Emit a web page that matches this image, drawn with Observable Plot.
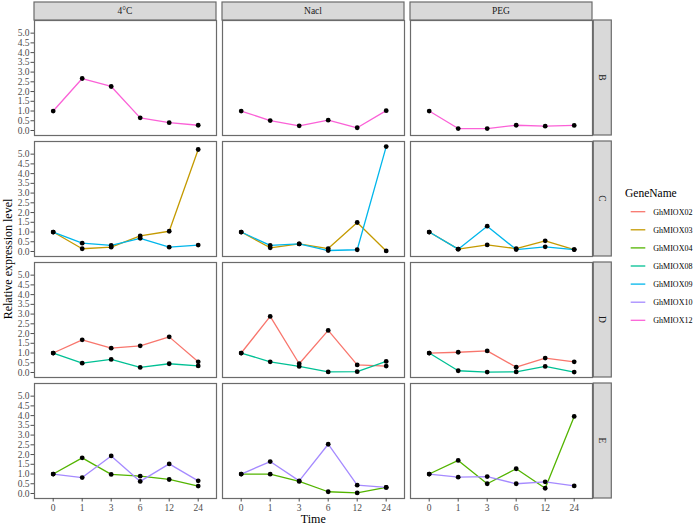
<!DOCTYPE html>
<html><head><meta charset="utf-8">
<script src="https://cdn.jsdelivr.net/npm/d3@7"></script>
<script src="https://cdn.jsdelivr.net/npm/@observablehq/plot@0.6"></script>
<style>body{margin:0;background:#fff;overflow:hidden}#chart{width:700px;height:526px}#chart svg{max-width:none;display:block}</style>
</head><body><div id="chart"></div>
<script>
const times = ["0","1","3","6","12","24"];
const conditions = ["4°C","Nacl","PEG"];
const groups = ["B","C","D","E"];
const genes = ["GhMIOX02","GhMIOX03","GhMIOX04","GhMIOX08","GhMIOX09","GhMIOX10","GhMIOX12"];
const geneColors = ["#F8766D","#C49A00","#53B400","#00C094","#00B6EB","#A58AFF","#FB61D7"];
const yTicks = [0,0.5,1,1.5,2,2.5,3,3.5,4,4.5,5];

// Row B
const B_GhMIOX12_4C   = [1.0, 2.67, 2.26, 0.65, 0.40, 0.27];
const B_GhMIOX12_Nacl = [1.0, 0.51, 0.24, 0.53, 0.14, 1.02];
const B_GhMIOX12_PEG  = [1.0, 0.10, 0.10, 0.27, 0.22, 0.26];
// Row C
const C_GhMIOX03_4C   = [1.0, 0.14, 0.22, 0.80, 1.04, 5.24];
const C_GhMIOX09_4C   = [1.0, 0.43, 0.31, 0.68, 0.22, 0.33];
const C_GhMIOX03_Nacl = [1.0, 0.19, 0.39, 0.15, 1.49, 0.03];
const C_GhMIOX09_Nacl = [1.0, 0.31, 0.39, 0.05, 0.09, 5.39];
const C_GhMIOX03_PEG  = [1.0, 0.12, 0.34, 0.15, 0.55, 0.10];
const C_GhMIOX09_PEG  = [1.0, 0.12, 1.30, 0.10, 0.24, 0.10];
// Row D
const D_GhMIOX02_4C   = [1.0, 1.68, 1.25, 1.37, 1.83, 0.55];
const D_GhMIOX08_4C   = [1.0, 0.48, 0.67, 0.26, 0.45, 0.34];
const D_GhMIOX02_Nacl = [1.0, 2.88, 0.45, 2.16, 0.39, 0.33];
const D_GhMIOX08_Nacl = [1.0, 0.55, 0.31, 0.03, 0.04, 0.57];
const D_GhMIOX02_PEG  = [1.0, 1.04, 1.11, 0.27, 0.74, 0.55];
const D_GhMIOX08_PEG  = [1.0, 0.09, 0.02, 0.03, 0.31, 0.02];
// Row E
const E_GhMIOX04_4C   = [1.0, 1.83, 0.98, 0.89, 0.72, 0.38];
const E_GhMIOX10_4C   = [1.0, 0.82, 1.93, 0.62, 1.52, 0.65];
const E_GhMIOX04_Nacl = [1.0, 0.99, 0.62, 0.09, 0.03, 0.31];
const E_GhMIOX10_Nacl = [1.0, 1.64, 0.65, 2.53, 0.43, 0.31];
const E_GhMIOX04_PEG  = [1.0, 1.70, 0.50, 1.27, 0.27, 3.96];
const E_GhMIOX10_PEG  = [1.0, 0.84, 0.87, 0.50, 0.60, 0.39];

const series = [
  ["B","GhMIOX12","4°C",B_GhMIOX12_4C],["B","GhMIOX12","Nacl",B_GhMIOX12_Nacl],["B","GhMIOX12","PEG",B_GhMIOX12_PEG],
  ["C","GhMIOX03","4°C",C_GhMIOX03_4C],["C","GhMIOX09","4°C",C_GhMIOX09_4C],
  ["C","GhMIOX03","Nacl",C_GhMIOX03_Nacl],["C","GhMIOX09","Nacl",C_GhMIOX09_Nacl],
  ["C","GhMIOX03","PEG",C_GhMIOX03_PEG],["C","GhMIOX09","PEG",C_GhMIOX09_PEG],
  ["D","GhMIOX02","4°C",D_GhMIOX02_4C],["D","GhMIOX08","4°C",D_GhMIOX08_4C],
  ["D","GhMIOX02","Nacl",D_GhMIOX02_Nacl],["D","GhMIOX08","Nacl",D_GhMIOX08_Nacl],
  ["D","GhMIOX02","PEG",D_GhMIOX02_PEG],["D","GhMIOX08","PEG",D_GhMIOX08_PEG],
  ["E","GhMIOX04","4°C",E_GhMIOX04_4C],["E","GhMIOX10","4°C",E_GhMIOX10_4C],
  ["E","GhMIOX04","Nacl",E_GhMIOX04_Nacl],["E","GhMIOX10","Nacl",E_GhMIOX10_Nacl],
  ["E","GhMIOX04","PEG",E_GhMIOX04_PEG],["E","GhMIOX10","PEG",E_GhMIOX10_PEG]
];
const data = series.flatMap(([group, gene, condition, values]) =>
  values.map((value, i) => ({group, gene, condition, time: times[i], value})));

const FONT = "Liberation Serif, Times New Roman, serif";
const W = 700, H = 526, ML = 33.3, MR = 106.7, MT = 20, MB = 28;

const plot = Plot.plot({
  width: W, height: H,
  marginTop: MT, marginBottom: MB, marginLeft: ML, marginRight: MR,
  style: {fontFamily: FONT, background: "white", overflow: "visible"},
  fx: {domain: conditions, paddingInner: 0.032, paddingOuter: 0, axis: null, label: null},
  fy: {domain: groups, paddingInner: 0.0496, paddingOuter: 0, axis: null, label: null},
  x: {type: "point", domain: times, padding: 0.6, label: null},
  y: {domain: [-0.257, 5.65], label: null},
  color: {domain: genes, range: geneColors},
  marks: [
    Plot.line(data, {x: "time", y: "value", z: "gene", stroke: "gene", fx: "condition", fy: "group", strokeWidth: 1.3}),
    Plot.dot(data, {x: "time", y: "value", fx: "condition", fy: "group", r: 2.4, fill: "black"}),
    Plot.frame({stroke: "#6b6b6b", strokeWidth: 1.2}),
    Plot.axisY({ticks: yTicks, tickFormat: d3.format(".1f"), tickSize: 3.5, tickPadding: 1.5, fontSize: 9.5, color: "#4d4d4d", label: null}),
    Plot.axisX({tickSize: 3.5, tickPadding: 2, fontSize: 9.5, color: "#4d4d4d", label: null})
  ]
});
document.getElementById("chart").appendChild(plot);

const svg = d3.select(plot);
const fx = plot.scale("fx"), fy = plot.scale("fy");
const bwx = fx.bandwidth, bwy = fy.bandwidth;
const top0 = fy.apply(groups[0]);
const g = svg.append("g").attr("font-family", FONT).attr("text-anchor", "start");
// top strips
conditions.forEach(c => {
  const x0 = fx.apply(c);
  g.append("rect").attr("x", x0).attr("y", 2).attr("width", bwx).attr("height", top0 - 2)
    .attr("fill", "#d9d9d9").attr("stroke", "#6b6b6b").attr("stroke-width", 1.2);
  g.append("text").attr("x", x0 + bwx / 2).attr("y", (2 + top0) / 2).attr("dy", "0.35em")
    .attr("text-anchor", "middle").attr("font-size", 9.5).attr("fill", "#1a1a1a").text(c);
});
// right strips
const xr = W - MR;
groups.forEach(r => {
  const y0 = fy.apply(r);
  g.append("rect").attr("x", xr).attr("y", y0).attr("width", 18).attr("height", bwy)
    .attr("fill", "#d9d9d9").attr("stroke", "#6b6b6b").attr("stroke-width", 1.2);
  g.append("text").attr("transform", `translate(${xr + 9},${y0 + bwy / 2}) rotate(90)`)
    .attr("dy", "0.35em").attr("text-anchor", "middle").attr("font-size", 9.5).attr("fill", "#1a1a1a").text(r);
});
// axis titles
g.append("text").attr("transform", `translate(8,${(MT + H - MB) / 2}) rotate(-90)`)
  .attr("dy", "0.35em").attr("text-anchor", "middle").attr("font-size", 12).attr("fill", "black")
  .text("Relative expression level");
g.append("text").attr("x", (ML + W - MR) / 2).attr("y", 519).attr("dy", "0.35em")
  .attr("text-anchor", "middle").attr("font-size", 12).attr("fill", "black").text("Time");
// legend
g.append("text").attr("x", 625).attr("y", 193).attr("dy", "0.35em").attr("font-size", 11.5)
  .attr("text-anchor", "start").attr("fill", "black").text("GeneName");
genes.forEach((name, i) => {
  const y = 211.7 + i * 18.1;
  g.append("line").attr("x1", 630.7).attr("x2", 645.3).attr("y1", y).attr("y2", y)
    .attr("stroke", geneColors[i]).attr("stroke-width", 1.3);
  g.append("text").attr("x", 653.3).attr("y", y).attr("dy", "0.35em").attr("font-size", 8)
    .attr("text-anchor", "start").attr("fill", "black").text(name);
});
</script></body></html>
